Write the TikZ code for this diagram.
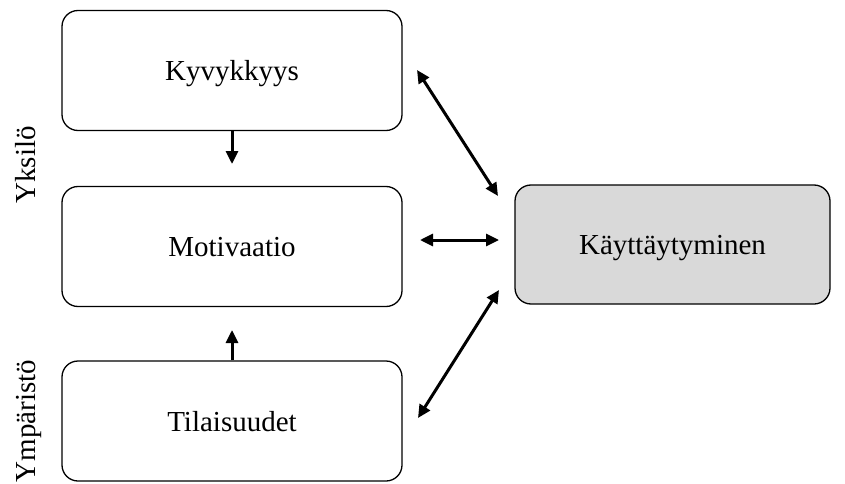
\documentclass[tikz,border=0pt]{standalone}
\usepackage{fontspec}
\setmainfont{Liberation Serif}
\usetikzlibrary{arrows.meta}
\begin{document}
\begin{tikzpicture}[x=1pt,y=-1pt,
  box/.style={draw=black,line width=1.3pt,rounded corners=16pt,minimum width=340pt,minimum height=120pt,font=\fontsize{29}{33}\selectfont,inner sep=0pt,text height=23pt,text depth=3pt},
  conn/.style={line width=3pt,{Triangle[length=13pt,width=12pt]}-{Triangle[length=13pt,width=12pt]}},
  oneway/.style={line width=3pt,-{Triangle[length=13pt,width=12pt]}},
  side/.style={rotate=90,font=\fontsize{29}{33}\selectfont,inner sep=0pt,text height=20pt,text depth=0pt}]
\useasboundingbox (0,0) rectangle (845,484);
\node[box] (ky) at (232,70.5) {Kyvykkyys};
\node[box] (mo) at (232,246.5) {Motivaatio};
\node[box] (ti) at (232,421) {Tilaisuudet};
\node[box,fill=black!15,minimum width=315pt,minimum height=119pt] (ka) at (672.5,244.5) {Käyttäytyminen};
\node[side] (yk) at (25,165) {Yksilö};
\node[side] (ym) at (25,421) {Ympäristö};
\coordinate (a1) at (417,70);
\coordinate (a2) at (498,196);
\coordinate (b1) at (499,290);
\coordinate (b2) at (418,418);
\coordinate (h1) at (420,240);
\coordinate (h2) at (499,240);
\coordinate (v1) at (232,164);
\coordinate (v2) at (232,330);
\draw[conn] (a1) -- (a2);
\draw[conn] (b1) -- (b2);
\draw[conn] (h1) -- (h2);
\draw[oneway] (ky.south -| v1) -- (v1);
\draw[oneway] (ti.north -| v2) -- (v2);
\end{tikzpicture}
\end{document}
